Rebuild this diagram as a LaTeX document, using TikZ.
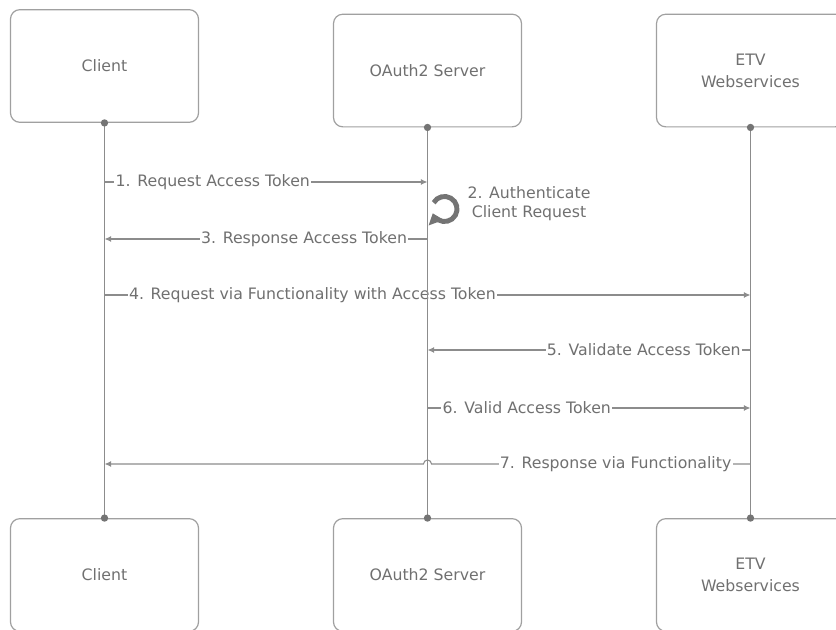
\documentclass[tikz,border=0pt]{standalone}
\usepackage{fontspec}
\setmainfont{DejaVu Sans}
\usetikzlibrary{arrows.meta,positioning,calc}
\definecolor{boxgray}{HTML}{A0A0A0}
\definecolor{linegray}{HTML}{8C8C8C}
\definecolor{textgray}{HTML}{707070}
\definecolor{dotgray}{HTML}{747474}

\begin{document}
\begin{tikzpicture}[x=0.75pt,y=-0.75pt,node distance=242.25pt,on grid,
		actor/.style={draw=boxgray, line width=0.9pt, rounded corners=7pt, minimum width=141pt, minimum height=84.5pt, align=center, text=textgray, font=\fontsize{11.8}{16.5}\selectfont},
		lifeline/.style={draw=linegray, line width=1.4pt},
		msg/.style={draw=linegray, line width=0.8pt, -{Latex[length=5pt,width=4.5pt]}},
		lbl/.style={fill=white, inner sep=1pt, text=textgray, font=\fontsize{11.8}{14.25}\selectfont},
		dot/.style={circle, fill=dotgray, inner sep=0pt, minimum size=5.5pt}
	]
	\useasboundingbox (0,0) rectangle (836,630);
	\clip (0,0) rectangle (836,630);
	
	\node[actor] (client) at (104.5,66) {Client};
	\node[actor] (oauth) [right=of client, yshift=-3.4pt] {OAuth2 Server};
	\node[actor] (etv) [right=of oauth] {ETV\\Webservices};
	
	\node[actor] (client_b) [below=381.75pt of client] {Client};
	\node[actor] (oauth_b) [right=of client_b] {OAuth2 Server};
	\node[actor] (etv_b) [right=of oauth_b] {ETV\\Webservices};
	
	\coordinate (r_1) at (0,182);
	\coordinate (r_2) at (444.5,209);
	\coordinate (r_3) at (0,239);
	\coordinate (r_4) at (0,295);
	\coordinate (r_5) at (0,350);
	\coordinate (r_6) at (0,408);
	\coordinate (r_7) at (0,464);
	
	\draw[msg] (client |- r_1) -- node[lbl, pos=0, anchor=west, xshift=7pt] {1. Request Access Token} (oauth |- r_1);
	\draw[draw=dotgray, line width=3.7pt, -{Triangle[length=7.5pt,width=11.5pt]}] ($(r_2)+(150:9.4pt)$) arc[start angle=150, end angle=-160, radius=9.4pt];
	\node[lbl, fill=none, align=center] (auth) at (529,203.5) {2. Authenticate\\Client Request};
	\draw[msg] (oauth |- r_3) -- node[lbl, pos=0, anchor=east, xshift=-14pt] {3. Response Access Token} (client |- r_3);
	\draw[msg] (client |- r_4) -- node[lbl, pos=0, anchor=west, xshift=17pt] {4. Request via Functionality with Access Token} (etv |- r_4);
	\draw[msg] (etv |- r_5) -- node[lbl, pos=0, anchor=east, xshift=-6pt] {5. Validate Access Token} (oauth |- r_5);
	\draw[msg] (oauth |- r_6) -- node[lbl, pos=0, anchor=west, xshift=10pt] {6. Valid Access Token} (etv |- r_6);
	\draw[msg] (etv |- r_7) -- node[lbl, pos=0, anchor=east, xshift=-13pt] {7. Response via Functionality} ($(oauth |- r_7)+(3pt,0)$)
		arc[start angle=0, end angle=180, radius=3pt] -- (client |- r_7);
	
	\draw[lifeline] (client.south) -- (client_b.north);
	\draw[lifeline, line width=1pt] (oauth.south) -- (oauth_b.north);
	\draw[lifeline] (etv.south) -- (etv_b.north);
	
	\node[dot] (d_c1) at (client.south) {};
	\node[dot] (d_o1) at (oauth.south) {};
	\node[dot] (d_e1) at (etv.south) {};
	\node[dot] (d_c2) at (client_b.north) {};
	\node[dot] (d_o2) at (oauth_b.north) {};
	\node[dot] (d_e2) at (etv_b.north) {};
\end{tikzpicture}
\end{document}
